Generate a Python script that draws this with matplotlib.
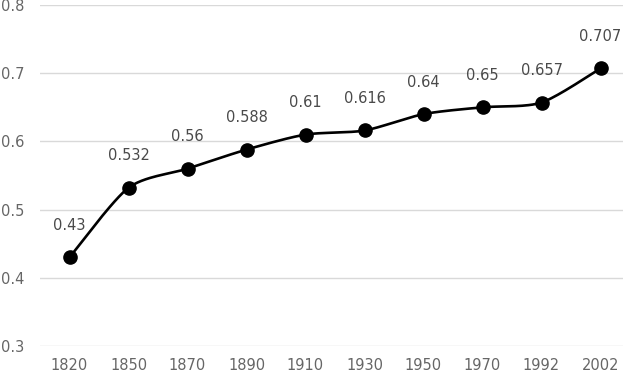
import numpy as np
import matplotlib
matplotlib.use("Agg")
import matplotlib.pyplot as plt

years = ["1820", "1850", "1870", "1890", "1910", "1930", "1950", "1970", "1992", "2002"]
values = [0.43, 0.532, 0.56, 0.588, 0.61, 0.616, 0.64, 0.65, 0.657, 0.707]
labels = ["0.43", "0.532", "0.56", "0.588", "0.61", "0.616", "0.64", "0.65", "0.657", "0.707"]
yticks = [0.3, 0.4, 0.5, 0.6, 0.7, 0.8]

fig = plt.figure(figsize=(6.23, 3.74), dpi=100)
ax = fig.add_axes([40/623, 28/374, 590/623, 341/374])

x = np.arange(len(years), dtype=float)
y = np.array(values)

# Bezier smoothing through the data points (like Excel's smoothed line)
def smooth(xs, ys, n=30, t=0.13):
    px, py = [], []
    N = len(xs)
    for i in range(N - 1):
        p0 = (xs[max(i-1, 0)], ys[max(i-1, 0)])
        p1 = (xs[i], ys[i])
        p2 = (xs[i+1], ys[i+1])
        p3 = (xs[min(i+2, N-1)], ys[min(i+2, N-1)])
        c1 = (p1[0] + (p2[0]-p0[0])*t, p1[1] + (p2[1]-p0[1])*t)
        c2 = (p2[0] - (p3[0]-p1[0])*t, p2[1] - (p3[1]-p1[1])*t)
        s = np.linspace(0, 1, n)
        bx = (1-s)**3*p1[0] + 3*(1-s)**2*s*c1[0] + 3*(1-s)*s**2*c2[0] + s**3*p2[0]
        by = (1-s)**3*p1[1] + 3*(1-s)**2*s*c1[1] + 3*(1-s)*s**2*c2[1] + s**3*p2[1]
        px.extend(bx); py.extend(by)
    return px, py

sx, sy = smooth(x, y)
ax.plot(sx, sy, color="black", lw=1.9, zorder=3, solid_capstyle="round")
ax.plot(x, y, "o", color="black", markersize=9.5, zorder=4)

for xi, yi, lab in zip(x, y, labels):
    ax.annotate(lab, (xi, yi), xytext=(0, 32), textcoords="offset pixels",
                ha="center", va="center", fontsize=10.5, color="#4a4a4a")

ax.set_xlim(-0.5, 9.5)
ax.set_ylim(0.3, 0.8)
ax.set_yticks(yticks)
ax.set_yticklabels([f"{v:.1f}" for v in yticks])
ax.set_xticks(x)
ax.set_xticklabels(years)
ax.grid(axis="y", color="#d9d9d9", lw=1)
ax.set_axisbelow(True)
for sp in ax.spines.values():
    sp.set_visible(False)
ax.tick_params(axis="both", length=0, labelsize=10.5, colors="#666666")
ax.tick_params(axis="y", pad=11)
ax.tick_params(axis="x", pad=9)

fig.savefig("out.png", dpi=100)
